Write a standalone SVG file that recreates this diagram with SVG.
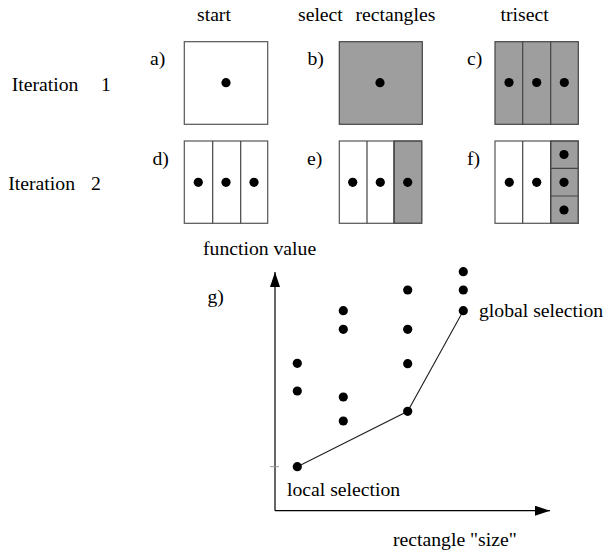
<svg xmlns="http://www.w3.org/2000/svg" width="606" height="551" viewBox="0 0 606 551">
<style>
text{font-family:"Liberation Serif","Times New Roman",serif;font-size:19.7px;fill:#000}
.box{fill:#fff;stroke:#555;stroke-width:1.2}
.g{fill:#9e9e9e;stroke:#444;stroke-width:1.2}
.div{stroke:#444;stroke-width:1.2;fill:none}
.dot{fill:#000}
.ax{stroke:#000;stroke-width:1.2;fill:none}
.cv{stroke:#222;stroke-width:1.1;fill:none}
</style>
<defs>
<marker id="ah" viewBox="0 0 15 10" refX="15" refY="5" markerWidth="15" markerHeight="10" markerUnits="userSpaceOnUse" orient="auto">
<path d="M0,0 L15,5 L0,10 Z" fill="#000"/>
</marker>
</defs>
<g id="headers">
<text x="197" y="21">start</text>
<text y="21"><tspan x="298">select</tspan><tspan x="355.5">rectangles</tspan></text>
<text x="500.5" y="21">trisect</text>
<text y="91"><tspan x="11.7">Iteration</tspan><tspan x="101">1</tspan></text>
<text y="190"><tspan x="8.3">Iteration</tspan><tspan x="91">2</tspan></text>
</g>
<g id="panel-a">
<text x="150" y="65">a)</text>
<rect class="box" x="184.3" y="41.7" width="83.4" height="82.6"/>
<circle class="dot" cx="226" cy="82.7" r="4.6"/>
</g>
<g id="panel-b">
<text x="307.5" y="65">b)</text>
<rect class="g" x="339.3" y="41.7" width="83" height="82.6"/>
<circle class="dot" cx="380" cy="82.7" r="4.6"/>
</g>
<g id="panel-c">
<text x="467" y="65">c)</text>
<rect class="g" x="495" y="41.7" width="83.3" height="82.6"/>
<path class="div" d="M522.7,41.7V124.3M550.7,41.7V124.3"/>
<circle class="dot" cx="509" cy="82.5" r="4.6"/>
<circle class="dot" cx="536.7" cy="82.5" r="4.6"/>
<circle class="dot" cx="564.3" cy="82.5" r="4.6"/>
</g>
<g id="panel-d">
<text x="152.5" y="165">d)</text>
<rect class="box" x="184.3" y="141" width="83.4" height="82.3"/>
<path class="div" d="M212.7,141V223.3M240.7,141V223.3"/>
<circle class="dot" cx="198.3" cy="182.3" r="4.6"/>
<circle class="dot" cx="226" cy="182.3" r="4.6"/>
<circle class="dot" cx="254" cy="182.3" r="4.6"/>
</g>
<g id="panel-e">
<text x="307" y="165">e)</text>
<rect class="g" x="394" y="141" width="27.7" height="82.3"/>
<rect class="box" x="339.3" y="141" width="82.4" height="82.3" style="fill:none"/>
<path class="div" d="M367,141V223.3M394,141V223.3"/>
<circle class="dot" cx="352.7" cy="182.3" r="4.6"/>
<circle class="dot" cx="380.3" cy="182.3" r="4.6"/>
<circle class="dot" cx="407.7" cy="182.3" r="4.6"/>
</g>
<g id="panel-f">
<text x="467" y="165">f)</text>
<rect class="g" x="550.7" y="141" width="27.6" height="82.3"/>
<rect class="box" x="495" y="141" width="83.3" height="82.3" style="fill:none"/>
<path class="div" d="M522.7,141V223.3M550.7,141V223.3M550.7,168.4H578.3M550.7,196H578.3"/>
<circle class="dot" cx="509.3" cy="182.3" r="4.6"/>
<circle class="dot" cx="536.7" cy="182.3" r="4.6"/>
<circle class="dot" cx="564" cy="154.5" r="4.6"/>
<circle class="dot" cx="564" cy="182.3" r="4.6"/>
<circle class="dot" cx="564" cy="210" r="4.6"/>
</g>
<g id="graph-g">
<text x="203" y="255">function value</text>
<text x="207.5" y="303">g)</text>
<text x="479" y="317">global selection</text>
<text x="287" y="496">local selection</text>
<text x="393" y="546">rectangle "size"</text>
<g id="connectors">
<path class="ax" d="M275,510.7V272" marker-end="url(#ah)"/>
<path class="ax" d="M275,510.7H550" marker-end="url(#ah)"/>
<path d="M270,466.7H279" stroke="#999" stroke-width="1"/>
<path class="cv" d="M297.3,466.7L407.7,411.3L463.3,310.7"/>
</g>
<g id="points">
<circle class="dot" cx="297.3" cy="363.3" r="4.6"/>
<circle class="dot" cx="297.3" cy="391" r="4.6"/>
<circle class="dot" cx="297.3" cy="466.7" r="4.6"/>
<circle class="dot" cx="343.3" cy="310.7" r="4.6"/>
<circle class="dot" cx="343.3" cy="329.3" r="4.6"/>
<circle class="dot" cx="343.3" cy="397" r="4.6"/>
<circle class="dot" cx="343.3" cy="421" r="4.6"/>
<circle class="dot" cx="407.7" cy="290" r="4.6"/>
<circle class="dot" cx="407.7" cy="329.3" r="4.6"/>
<circle class="dot" cx="407.7" cy="363.7" r="4.6"/>
<circle class="dot" cx="407.7" cy="411.3" r="4.6"/>
<circle class="dot" cx="463.3" cy="271.7" r="4.6"/>
<circle class="dot" cx="463.3" cy="290" r="4.6"/>
<circle class="dot" cx="463.3" cy="310.7" r="4.6"/>
</g>
</g>
</svg>
